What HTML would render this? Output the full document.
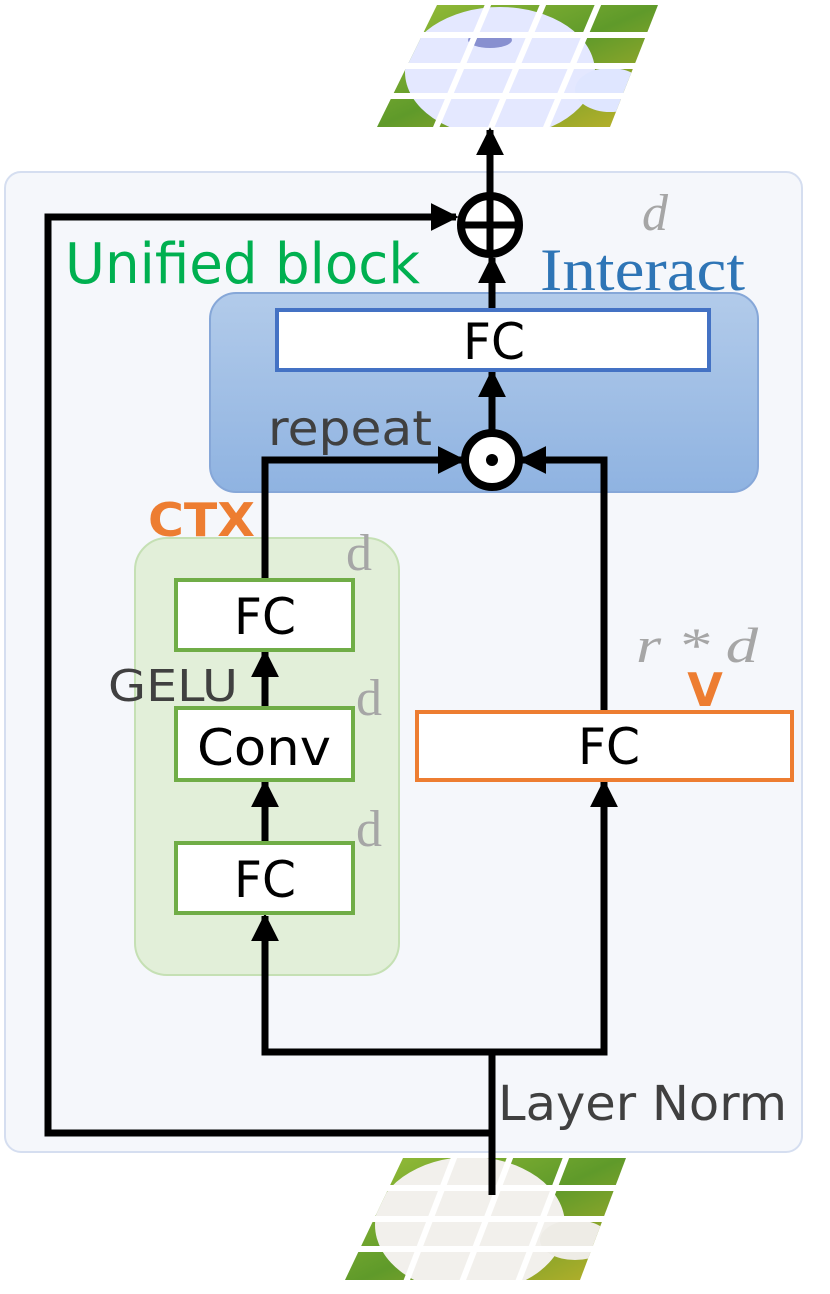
<!DOCTYPE html>
<html><head><meta charset="utf-8"><style>
html,body{margin:0;padding:0;background:#fff;}
svg{display:block;}
.s{font-family:"DejaVu Sans","Liberation Sans",sans-serif;}
.r{font-family:"Liberation Serif",serif;}
</style></head><body>
<svg width="830" height="1294" viewBox="0 0 830 1294" xmlns="http://www.w3.org/2000/svg">
<defs>
<linearGradient id="bg" x1="0" y1="0" x2="0" y2="1"><stop offset="0" stop-color="#b2cbea"/><stop offset="1" stop-color="#8fb3e1"/></linearGradient>
<linearGradient id="gr" x1="0" y1="0" x2="1" y2="1"><stop offset="0" stop-color="#9fc23a"/><stop offset="0.5" stop-color="#5f9a2a"/><stop offset="1" stop-color="#c9b52a"/></linearGradient>
<clipPath id="c1"><polygon points="437,5 658,5 610,127 377,127"/></clipPath>
<clipPath id="c2"><polygon points="403,1158 626,1158 580,1280 345,1280"/></clipPath>
<marker id="a" viewBox="0 0 10 10" refX="9" refY="5" markerWidth="4" markerHeight="4" orient="auto"><path d="M0,0 L10,5 L0,10 z" fill="#000"/></marker>
</defs>
<!-- top image -->
<g clip-path="url(#c1)">
<rect x="370" y="0" width="300" height="130" fill="url(#gr)"/>
<ellipse cx="500" cy="72" rx="95" ry="65" fill="#e4e8ff"/>
<ellipse cx="610" cy="90" rx="35" ry="22" fill="#dfe6ff"/>
<ellipse cx="490" cy="40" rx="22" ry="8" fill="#8890d0"/>
</g>
<g stroke="#fff" stroke-width="6">
<line x1="370" y1="35" x2="670" y2="35"/><line x1="370" y1="66" x2="670" y2="66"/><line x1="370" y1="96" x2="670" y2="96"/>
<line x1="490" y1="0" x2="435" y2="130"/><line x1="545" y1="0" x2="490" y2="130"/><line x1="600" y1="0" x2="545" y2="130"/>
</g>
<!-- bottom image -->
<g clip-path="url(#c2)">
<rect x="340" y="1150" width="300" height="140" fill="url(#gr)"/>
<ellipse cx="470" cy="1225" rx="95" ry="68" fill="#f2f0ec"/>
<ellipse cx="575" cy="1240" rx="35" ry="20" fill="#eeece6"/>
</g>
<g stroke="#fff" stroke-width="6">
<line x1="340" y1="1188" x2="640" y2="1188"/><line x1="340" y1="1219" x2="640" y2="1219"/><line x1="340" y1="1249" x2="640" y2="1249"/>
<line x1="457" y1="1150" x2="403" y2="1290"/><line x1="513" y1="1150" x2="459" y2="1290"/><line x1="569" y1="1150" x2="515" y2="1290"/>
</g>
<!-- panel -->
<rect x="5" y="172" width="797" height="980" rx="16" fill="#f5f7fb" stroke="#d5def0" stroke-width="2"/>
<rect x="210" y="293" width="548" height="199" rx="26" fill="url(#bg)" stroke="#86a7d8" stroke-width="2"/>
<rect x="135" y="538" width="264" height="437" rx="32" fill="#e2efd9" stroke="#c5e0b4" stroke-width="2"/>
<!-- lines -->
<g stroke="#000" stroke-width="7" fill="none">
<polyline points="492,1195 492,1133 48,1133 48,217 456,217" marker-end="url(#a)"/>
<polyline points="492,1133 492,1052 265,1052 265,916" marker-end="url(#a)"/>
<polyline points="492,1052 604,1052 604,782" marker-end="url(#a)"/>
<line x1="265" y1="843" x2="265" y2="782" marker-end="url(#a)"/>
<line x1="265" y1="708" x2="265" y2="652" marker-end="url(#a)"/>
<polyline points="265,580 265,460 463,460" marker-end="url(#a)"/>
<polyline points="604,712 604,460 521,460" marker-end="url(#a)"/>
<line x1="492" y1="432" x2="492" y2="372" marker-end="url(#a)"/>
<line x1="492" y1="310" x2="492" y2="258" marker-end="url(#a)"/>
<line x1="490" y1="195" x2="490" y2="130" marker-end="url(#a)"/>
</g>
<circle cx="490" cy="225" r="29" fill="#fff" stroke="#000" stroke-width="8"/>
<line x1="461" y1="225" x2="519" y2="225" stroke="#000" stroke-width="7"/>
<line x1="490" y1="196" x2="490" y2="254" stroke="#000" stroke-width="7"/>
<circle cx="492" cy="460" r="27" fill="#fff" stroke="#000" stroke-width="8"/>
<circle cx="492" cy="460" r="6" fill="#000"/>
<!-- boxes -->
<rect x="277" y="310" width="432" height="60" fill="#fff" stroke="#4472c4" stroke-width="4"/>
<rect x="176" y="580" width="177" height="70" fill="#fff" stroke="#70ad47" stroke-width="4"/>
<rect x="176" y="708" width="177" height="72" fill="#fff" stroke="#70ad47" stroke-width="4"/>
<rect x="176" y="843" width="177" height="70" fill="#fff" stroke="#70ad47" stroke-width="4"/>
<rect x="417" y="712" width="375" height="68" fill="#fff" stroke="#ed7d31" stroke-width="4"/>
<!-- text -->
<g class="s" font-size="50" fill="#000">
<text x="463" y="359" textLength="62" lengthAdjust="spacingAndGlyphs">FC</text>
<text x="234" y="634" textLength="62" lengthAdjust="spacingAndGlyphs">FC</text>
<text x="197" y="765" textLength="134" lengthAdjust="spacingAndGlyphs">Conv</text>
<text x="234" y="897" textLength="62" lengthAdjust="spacingAndGlyphs">FC</text>
<text x="578" y="764" textLength="62" lengthAdjust="spacingAndGlyphs">FC</text>
</g>
<text class="s" x="65" y="283" font-size="56" fill="#00b050" textLength="355" lengthAdjust="spacingAndGlyphs">Unified block</text>
<text class="r" x="540" y="290" font-size="60" fill="#2e75b6" textLength="205" lengthAdjust="spacingAndGlyphs">Interact</text>
<text class="r" x="642" y="230" font-size="52" font-style="italic" fill="#a6a6a6">d</text>
<text class="s" x="268" y="445" font-size="48" fill="#404040" textLength="164" lengthAdjust="spacingAndGlyphs">repeat</text>
<text class="s" x="148" y="536" font-size="46" font-weight="bold" fill="#ed7d31" textLength="107" lengthAdjust="spacingAndGlyphs">CTX</text>
<text class="r" x="346" y="570" font-size="52" fill="#a6a6a6">d</text>
<text class="r" x="356" y="715" font-size="52" fill="#a6a6a6">d</text>
<text class="r" x="356" y="846" font-size="52" fill="#a6a6a6">d</text>
<text class="s" x="108" y="701" font-size="44" fill="#404040" textLength="130" lengthAdjust="spacingAndGlyphs">GELU</text>
<text class="r" x="636" y="662" font-size="50" font-style="italic" fill="#a6a6a6" textLength="122" lengthAdjust="spacingAndGlyphs">r * d</text>
<text class="s" x="705" y="706" font-size="46" font-weight="bold" fill="#ed7d31" text-anchor="middle">V</text>
<text class="s" x="498" y="1120" font-size="48" fill="#404040" textLength="289" lengthAdjust="spacingAndGlyphs">Layer Norm</text>
</svg>
</body></html>
